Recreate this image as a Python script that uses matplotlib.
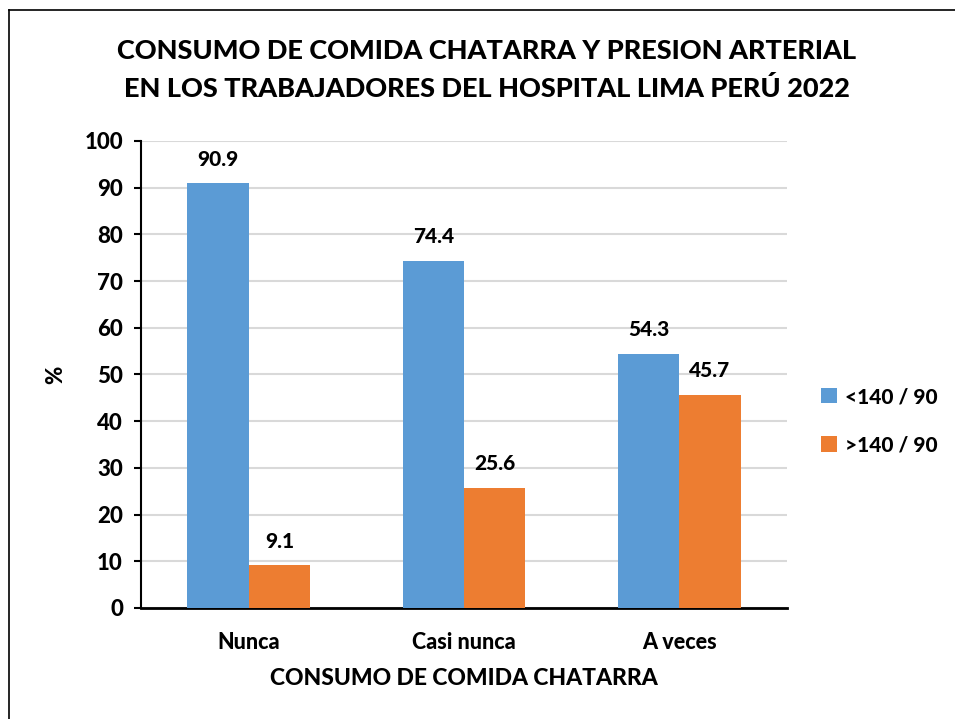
import matplotlib.pyplot as plt
import matplotlib.lines as mlines
import numpy as np

categorias = ["Nunca", "Casi nunca", "A veces"]
series = ["<140 / 90", ">140 / 90"]
normal = [90.9, 74.4, 54.3]
alta = [9.1, 25.6, 45.7]
colores = ["#5B9BD5", "#ED7D31"]

PESO = 'black'
plt.rcParams['font.family'] = ['Lato', 'DejaVu Sans']
plt.rcParams['font.weight'] = PESO

fig = plt.figure(figsize=(9.55, 7.19), dpi=100)
ax = fig.add_axes([0.1476, 0.1544, 0.8241 - 0.1476, 0.8039 - 0.1544])

x = np.arange(len(categorias))
w = 0.285
b1 = ax.bar(x - w / 2, normal, w, color=colores[0], label=series[0], zorder=3)
b2 = ax.bar(x + w / 2, alta, w, color=colores[1], label=series[1], zorder=3)

for bars in (b1, b2):
    for r in bars:
        ax.text(r.get_x() + r.get_width() / 2, r.get_height() + 3.2,
                f"{r.get_height():.1f}", ha='center', va='bottom',
                fontsize=15, fontweight=PESO)

ax.set_xlim(-0.5, 2.5)
ax.set_ylim(0, 100)
ax.set_yticks(range(0, 101, 10))
ax.set_xticks(x)
ax.set_xticklabels(categorias)
ax.tick_params(axis='y', labelsize=16, length=5, width=1.5, pad=8)
ax.tick_params(axis='x', labelsize=15.5, length=0, pad=17)
for lab in ax.get_xticklabels() + ax.get_yticklabels():
    lab.set_fontweight(PESO)
ax.grid(axis='y', color='#D9D9D9', linewidth=1.5, zorder=0)
ax.spines['top'].set_visible(False)
ax.spines['right'].set_visible(False)
ax.spines['left'].set_linewidth(1.5)
ax.spines['bottom'].set_linewidth(2)

ax.set_ylabel("%", fontsize=16, fontweight=PESO, labelpad=13)
ax.set_xlabel("CONSUMO DE COMIDA CHATARRA", fontsize=16.5, fontweight=PESO, labelpad=11)

fig.text(0.51, 0.903, "CONSUMO DE COMIDA CHATARRA Y PRESION ARTERIAL\nEN LOS TRABAJADORES DEL HOSPITAL LIMA PERÚ 2022",
         ha='center', va='center', fontsize=19.5, fontweight=PESO, linespacing=1.6)

leg = fig.legend(loc='center left', bbox_to_anchor=(0.86, 0.415), frameon=False,
                 fontsize=15, handlelength=0.75, handleheight=0.75, handletextpad=0.4,
                 labelspacing=1.4, borderpad=0, borderaxespad=0)
for t in leg.get_texts():
    t.set_fontweight(PESO)

# marco de la figura (solo lados izquierdo y superior visibles)
fig.add_artist(mlines.Line2D([8.5 / 955, 8.5 / 955], [0, 1 - 10 / 719], color='black', lw=1.2))
fig.add_artist(mlines.Line2D([8.5 / 955, 1], [1 - 10 / 719, 1 - 10 / 719], color='black', lw=1.2))

fig.savefig("out.png", dpi=100)
